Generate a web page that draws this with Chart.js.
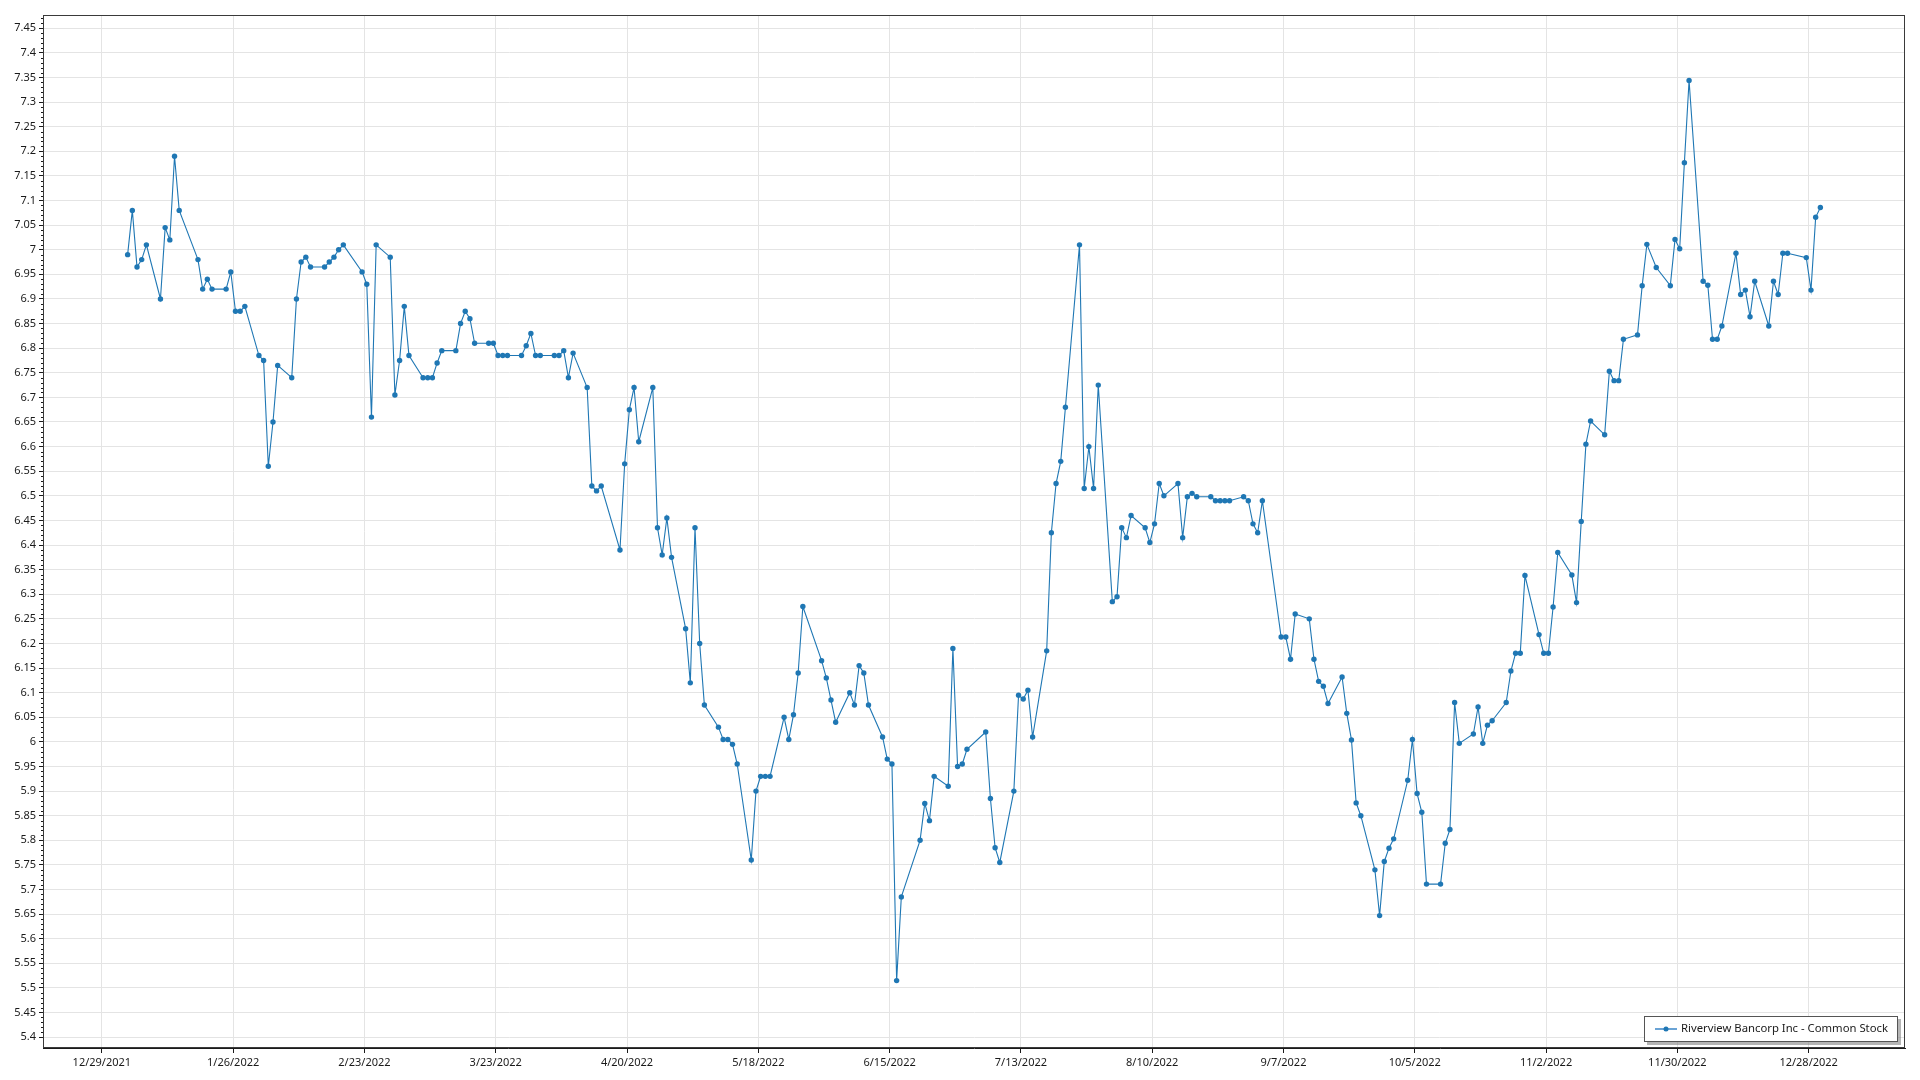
<!DOCTYPE html>
<html>
<head>
<meta charset="utf-8">
<script src="https://cdn.jsdelivr.net/npm/chart.js@4.4.1/dist/chart.umd.min.js"></script>
<style>
  html, body { margin: 0; padding: 0; background: #ffffff; }
  #wrap { width: 1920px; height: 1080px; position: relative; }
  canvas { display: block; }
</style>
</head>
<body>
<div id="wrap"><canvas id="c" width="1920" height="1080"></canvas></div>
<script>
// ---------------- DATA ----------------
const seriesName = "Riverview Bancorp Inc - Common Stock";

const tradeDates = [
  "2022-01-03","2022-01-04","2022-01-05","2022-01-06","2022-01-07","2022-01-10","2022-01-11","2022-01-12","2022-01-13","2022-01-14",
  "2022-01-18","2022-01-19","2022-01-20","2022-01-21","2022-01-24","2022-01-25","2022-01-26","2022-01-27","2022-01-28","2022-01-31",
  "2022-02-01","2022-02-02","2022-02-03","2022-02-04","2022-02-07","2022-02-08","2022-02-09","2022-02-10","2022-02-11","2022-02-14",
  "2022-02-15","2022-02-16","2022-02-17","2022-02-18","2022-02-22","2022-02-23","2022-02-24","2022-02-25","2022-02-28",
  "2022-03-01","2022-03-02","2022-03-03","2022-03-04","2022-03-07","2022-03-08","2022-03-09","2022-03-10","2022-03-11","2022-03-14",
  "2022-03-15","2022-03-16","2022-03-17","2022-03-18","2022-03-21","2022-03-22","2022-03-23","2022-03-24","2022-03-25","2022-03-28",
  "2022-03-29","2022-03-30","2022-03-31",
  "2022-04-01","2022-04-04","2022-04-05","2022-04-06","2022-04-07","2022-04-08","2022-04-11","2022-04-12","2022-04-13","2022-04-14",
  "2022-04-18","2022-04-19","2022-04-20","2022-04-21","2022-04-22","2022-04-25","2022-04-26","2022-04-27","2022-04-28","2022-04-29",
  "2022-05-02","2022-05-03","2022-05-04","2022-05-05","2022-05-06","2022-05-09","2022-05-10","2022-05-11","2022-05-12","2022-05-13",
  "2022-05-16","2022-05-17","2022-05-18","2022-05-19","2022-05-20","2022-05-23","2022-05-24","2022-05-25","2022-05-26","2022-05-27",
  "2022-05-31",
  "2022-06-01","2022-06-02","2022-06-03","2022-06-06","2022-06-07","2022-06-08","2022-06-09","2022-06-10","2022-06-13","2022-06-14",
  "2022-06-15","2022-06-16","2022-06-17","2022-06-21","2022-06-22","2022-06-23","2022-06-24","2022-06-27","2022-06-28","2022-06-29",
  "2022-06-30",
  "2022-07-01","2022-07-05","2022-07-06","2022-07-07","2022-07-08","2022-07-11","2022-07-12","2022-07-13","2022-07-14","2022-07-15",
  "2022-07-18","2022-07-19","2022-07-20","2022-07-21","2022-07-22","2022-07-25","2022-07-26","2022-07-27","2022-07-28","2022-07-29",
  "2022-08-01","2022-08-02","2022-08-03","2022-08-04","2022-08-05","2022-08-08","2022-08-09","2022-08-10","2022-08-11","2022-08-12",
  "2022-08-15","2022-08-16","2022-08-17","2022-08-18","2022-08-19","2022-08-22","2022-08-23","2022-08-24","2022-08-25","2022-08-26",
  "2022-08-29","2022-08-30","2022-08-31",
  "2022-09-01","2022-09-02","2022-09-06","2022-09-07","2022-09-08","2022-09-09","2022-09-12","2022-09-13","2022-09-14","2022-09-15",
  "2022-09-16","2022-09-19","2022-09-20","2022-09-21","2022-09-22","2022-09-23","2022-09-26","2022-09-27","2022-09-28","2022-09-29",
  "2022-09-30",
  "2022-10-03","2022-10-04","2022-10-05","2022-10-06","2022-10-07","2022-10-10","2022-10-11","2022-10-12","2022-10-13","2022-10-14",
  "2022-10-17","2022-10-18","2022-10-19","2022-10-20","2022-10-21","2022-10-24","2022-10-25","2022-10-26","2022-10-27","2022-10-28",
  "2022-10-31",
  "2022-11-01","2022-11-02","2022-11-03","2022-11-04","2022-11-07","2022-11-08","2022-11-09","2022-11-10","2022-11-11","2022-11-14",
  "2022-11-15","2022-11-16","2022-11-17","2022-11-18","2022-11-21","2022-11-22","2022-11-23","2022-11-25","2022-11-28","2022-11-29",
  "2022-11-30",
  "2022-12-01","2022-12-02","2022-12-05","2022-12-06","2022-12-07","2022-12-08","2022-12-09","2022-12-12","2022-12-13","2022-12-14",
  "2022-12-15","2022-12-16","2022-12-19","2022-12-20","2022-12-21","2022-12-22","2022-12-23","2022-12-27","2022-12-28","2022-12-29",
  "2022-12-30"
];

const closePrices = [
  6.99, 7.08, 6.965, 6.98, 7.01, 6.90, 7.045, 7.02, 7.19, 7.08,
  6.98, 6.92, 6.94, 6.92, 6.92, 6.955, 6.875, 6.875, 6.885, 6.785,
  6.775, 6.56, 6.65, 6.765, 6.74, 6.90, 6.975, 6.985, 6.965, 6.965,
  6.975, 6.985, 7.00, 7.01, 6.955, 6.93, 6.66, 7.01, 6.985,
  6.705, 6.775, 6.885, 6.785, 6.74, 6.74, 6.74, 6.77, 6.795, 6.795,
  6.85, 6.875, 6.86, 6.81, 6.81, 6.81, 6.785, 6.785, 6.785, 6.785,
  6.805, 6.83, 6.785,
  6.785, 6.785, 6.785, 6.795, 6.74, 6.79, 6.72, 6.52, 6.51, 6.52,
  6.39, 6.565, 6.675, 6.72, 6.61, 6.72, 6.435, 6.38, 6.455, 6.375,
  6.23, 6.12, 6.435, 6.20, 6.075, 6.03, 6.005, 6.005, 5.995, 5.955,
  5.76, 5.90, 5.93, 5.93, 5.93, 6.05, 6.005, 6.055, 6.14, 6.275,
  6.165,
  6.13, 6.085, 6.04, 6.10, 6.075, 6.155, 6.14, 6.075, 6.01, 5.965,
  5.955, 5.515, 5.685, 5.80, 5.875, 5.84, 5.93, 5.91, 6.19, 5.95,
  5.955,
  5.985, 6.02, 5.885, 5.785, 5.755, 5.90, 6.095, 6.087, 6.105, 6.01,
  6.185, 6.425, 6.525, 6.57, 6.68, 7.01, 6.515, 6.60, 6.515, 6.725,
  6.285, 6.295, 6.435, 6.415, 6.46, 6.435, 6.405, 6.443, 6.525, 6.50,
  6.525, 6.415, 6.498, 6.505, 6.498, 6.498, 6.49, 6.49, 6.49, 6.49,
  6.498, 6.49, 6.443,
  6.425, 6.49, 6.213, 6.213, 6.168, 6.26, 6.25, 6.168, 6.123, 6.113,
  6.078, 6.132, 6.058, 6.004, 5.876, 5.85, 5.74, 5.647, 5.757, 5.784,
  5.803,
  5.922, 6.005, 5.895, 5.857, 5.711, 5.711, 5.794, 5.822, 6.08, 5.997,
  6.016, 6.071, 5.997, 6.034, 6.043, 6.08, 6.144, 6.18, 6.18, 6.338,
  6.218,
  6.18, 6.18, 6.274, 6.385, 6.339, 6.283, 6.448, 6.605, 6.652, 6.624,
  6.753, 6.734, 6.734, 6.818, 6.827, 6.927, 7.011, 6.964, 6.927, 7.021,
  7.002,
  7.177, 7.344, 6.936, 6.928, 6.818, 6.818, 6.845, 6.993, 6.909, 6.918,
  6.864, 6.936, 6.845, 6.936, 6.909, 6.993, 6.993, 6.984, 6.918, 7.066,
  7.086
];

const xTickDates = [
  "2021-12-29","2022-01-26","2022-02-23","2022-03-23","2022-04-20","2022-05-18","2022-06-15",
  "2022-07-13","2022-08-10","2022-09-07","2022-10-05","2022-11-02","2022-11-30","2022-12-28"
];

const yTickValues = [
  5.4, 5.45, 5.5, 5.55, 5.6, 5.65, 5.7, 5.75, 5.8, 5.85, 5.9, 5.95, 6, 6.05, 6.1, 6.15, 6.2, 6.25,
  6.3, 6.35, 6.4, 6.45, 6.5, 6.55, 6.6, 6.65, 6.7, 6.75, 6.8, 6.85, 6.9, 6.95, 7, 7.05, 7.1, 7.15,
  7.2, 7.25, 7.3, 7.35, 7.4, 7.45
];

// ---------------- HELPERS ----------------
const DAY = 86400000;
function toDay(s) {
  const p = s.split("-").map(Number);
  return Date.UTC(p[0], p[1] - 1, p[2]) / DAY;
}
function dayLabel(d) {
  const dt = new Date(Math.round(d) * DAY);
  return (dt.getUTCMonth() + 1) + "/" + dt.getUTCDate() + "/" + dt.getUTCFullYear();
}
const POINT_SHIFT = 0.5;   // points sit mid-day relative to the midnight date ticks
const points = tradeDates.map((d, i) => ({ x: toDay(d) + POINT_SHIFT, y: closePrices[i] }));
const xTicks = xTickDates.map(toDay);
const firstX = points[0].x, lastX = points[points.length - 1].x;
const padX = (lastX - firstX) * 0.05;

const LINE_COLOR = "#1f77b4";
const GRID = "#e4e4e4";
const FONT_FAMILY = "'Noto Sans', 'DejaVu Sans', sans-serif";

Chart.defaults.font.family = FONT_FAMILY;
Chart.defaults.font.size = 11;
Chart.defaults.color = "#1a1a1a";

const frameAndExtras = {
  id: "frameAndExtras",
  afterDraw(chart) {
    const ctx = chart.ctx;
    const a = chart.chartArea;
    const ys = chart.scales.y;
    ctx.save();
    // plot frame
    ctx.strokeStyle = "#3a3a3a";
    ctx.lineWidth = 1;
    ctx.strokeRect(Math.round(a.left) + 0.5, Math.round(a.top) + 0.5,
                   Math.round(a.right - a.left) - 1, Math.round(a.bottom - a.top) - 1);
    // minor ticks on y axis
    ctx.strokeStyle = "#1a1a1a";
    ctx.beginPath();
    for (let k = 0; k < yTickValues.length; k++) {
      const base = yTickValues[k];
      for (let m = 1; m < 5; m++) {
        const v = base + m * 0.01;
        if (v > ys.max) break;
        const py = Math.round(ys.getPixelForValue(v)) + 0.5;
        ctx.moveTo(a.left - 2, py);
        ctx.lineTo(a.left, py);
      }
    }
    ctx.stroke();

    // legend box (bottom-right, inside plot)
    const bx = 1644, by = 1016, bw = 254, bh = 26;
    ctx.fillStyle = "rgba(120,120,120,0.55)";
    ctx.fillRect(bx + 3, by + 3, bw, bh);
    ctx.fillStyle = "#ffffff";
    ctx.fillRect(bx, by, bw, bh);
    ctx.strokeStyle = "#555555";
    ctx.lineWidth = 1;
    ctx.strokeRect(bx + 0.5, by + 0.5, bw - 1, bh - 1);
    const cy = by + bh / 2;
    ctx.strokeStyle = "#6aa3d5";
    ctx.lineWidth = 2;
    ctx.beginPath();
    ctx.moveTo(bx + 11, cy);
    ctx.lineTo(bx + 33, cy);
    ctx.stroke();
    ctx.fillStyle = LINE_COLOR;
    ctx.beginPath();
    ctx.arc(bx + 22, cy, 2.5, 0, Math.PI * 2);
    ctx.fill();
    // fit text into the same width as the reference legend text
    const targetW = 207;
    let size = 12;
    ctx.font = size + "px " + FONT_FAMILY;
    const w = ctx.measureText(seriesName).width;
    if (w > targetW) size = size * targetW / w;
    ctx.font = size.toFixed(2) + "px " + FONT_FAMILY;
    ctx.fillStyle = "#1a1a1a";
    ctx.textBaseline = "middle";
    ctx.textAlign = "left";
    ctx.fillText(seriesName, bx + 37, cy);
    ctx.restore();
  }
};

new Chart(document.getElementById("c"), {
  type: "line",
  data: {
    datasets: [{
      label: seriesName,
      data: points,
      borderColor: LINE_COLOR,
      backgroundColor: LINE_COLOR,
      borderWidth: 1.1,
      pointRadius: 2.7,
      pointBorderWidth: 0,
      pointBackgroundColor: LINE_COLOR,
      tension: 0,
      fill: false
    }]
  },
  options: {
    responsive: false,
    animation: false,
    devicePixelRatio: 1,
    layout: { padding: { left: 0, top: 15, right: 15, bottom: 0 } },
    plugins: { legend: { display: false }, tooltip: { enabled: false } },
    scales: {
      x: {
        type: "linear",
        min: firstX - padX,
        max: lastX + padX,
        afterBuildTicks(scale) { scale.ticks = xTicks.map(v => ({ value: v })); },
        afterFit(scale) { scale.height = 32; },
        ticks: {
          autoSkip: false,
          maxRotation: 0,
          padding: 3,
          callback: (v) => dayLabel(v)
        },
        grid: { color: GRID, lineWidth: 1, tickLength: 5, tickColor: "#1a1a1a" },
        border: { color: "#1a1a1a", width: 1 }
      },
      y: {
        type: "linear",
        min: 5.378,
        max: 7.477,
        afterBuildTicks(scale) { scale.ticks = yTickValues.map(v => ({ value: v })); },
        afterFit(scale) { scale.width = 43; },
        ticks: {
          autoSkip: false,
          padding: 3,
          callback: (v) => String(Number(v.toFixed(2)))
        },
        grid: { color: GRID, lineWidth: 1, tickLength: 4, tickColor: "#1a1a1a" },
        border: { color: "#1a1a1a", width: 1 }
      }
    }
  },
  plugins: [frameAndExtras]
});
</script>
</body>
</html>
